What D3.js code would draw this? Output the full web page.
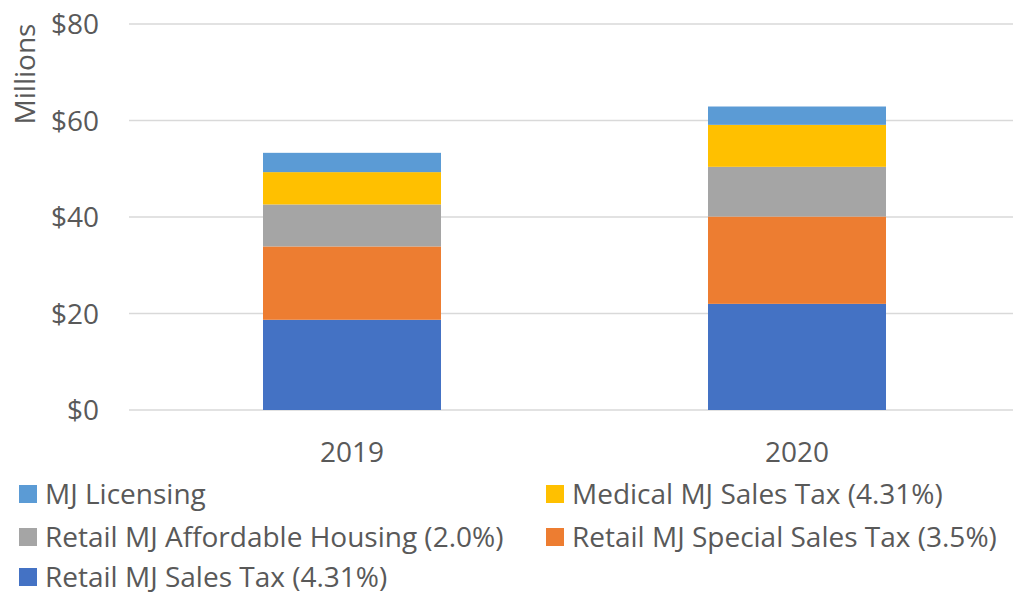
<!DOCTYPE html>
<html>
<head>
<meta charset="utf-8">
<script src="https://cdn.jsdelivr.net/npm/d3@7"></script>
<style>
  body { margin: 0; background: #fff; }
  text { font-family: "Open Sans", "Noto Sans", sans-serif; fill: #595959; }
</style>
</head>
<body>
<svg id="chart"></svg>
<script>
const years = ['2019', '2020'];
const seriesNames = [
  'Retail MJ Sales Tax (4.31%)',
  'Retail MJ Special Sales Tax (3.5%)',
  'Retail MJ Affordable Housing (2.0%)',
  'Medical MJ Sales Tax (4.31%)',
  'MJ Licensing'
];
const retailSales = [18.7, 22.0];
const retailSpecial = [15.2, 18.1];
const affordableHousing = [8.7, 10.3];
const medicalSales = [6.7, 8.7];
const licensing = [4.0, 3.8];
const yTicks = [0, 20, 40, 60, 80];
const colors = ['#4472c4', '#ed7d31', '#a5a5a5', '#ffc000', '#5b9bd5'];

const width = 1013, height = 596;
const fs = '28px';
const svg = d3.select('#chart').attr('width', width).attr('height', height);

// build rows for the stack
const values = [retailSales, retailSpecial, affordableHousing, medicalSales, licensing];
const rows = years.map((y, i) => {
  const r = { year: y };
  seriesNames.forEach((s, k) => { r[s] = values[k][i]; });
  return r;
});
const stacked = d3.stack().keys(seriesNames)(rows);

const x = d3.scaleBand().domain(years).range([129.5, 1019.5]).paddingInner(0.6).paddingOuter(0.3);
const y = d3.scaleLinear().domain([0, 80]).range([410, 24]);

// gridlines
svg.append('g').selectAll('line')
  .data(yTicks)
  .join('line')
  .attr('x1', 129).attr('x2', width)
  .attr('y1', d => y(d)).attr('y2', d => y(d))
  .attr('stroke', '#d9d9d9').attr('stroke-width', 1.5);

// y tick labels
svg.append('g').selectAll('text')
  .data(yTicks)
  .join('text')
  .attr('x', 99).attr('y', d => y(d) + 10)
  .attr('text-anchor', 'end')
  .style('font-size', fs)
  .text(d => '$' + d);

svg.append('text')
  .attr('transform', 'translate(35,74) rotate(-90)')
  .attr('text-anchor', 'middle')
  .style('font-size', fs)
  .text('Millions');

// bars
svg.append('g').selectAll('g')
  .data(stacked)
  .join('g')
  .attr('fill', (d, i) => colors[i])
  .selectAll('rect')
  .data(d => d)
  .join('rect')
  .attr('x', d => x(d.data.year))
  .attr('width', x.bandwidth())
  .attr('y', d => y(d[1]))
  .attr('height', d => y(d[0]) - y(d[1]));

// x labels
svg.append('g').selectAll('text')
  .data(years)
  .join('text')
  .attr('x', d => x(d) + x.bandwidth() / 2)
  .attr('y', 462)
  .attr('text-anchor', 'middle')
  .style('font-size', fs)
  .text(d => d);

// legend
const legendOrder = [4, 3, 2, 1, 0];
const legendPos = [[19, 494], [546, 494], [19, 537], [546, 537], [19, 577]];
const leg = svg.append('g').selectAll('g')
  .data(legendOrder)
  .join('g')
  .attr('transform', (d, i) => `translate(${legendPos[i][0]},${legendPos[i][1]})`);
leg.append('rect')
  .attr('x', 0).attr('y', -9).attr('width', 18).attr('height', 18)
  .attr('fill', d => colors[d]);
leg.append('text')
  .attr('x', 26).attr('y', 10)
  .style('font-size', fs)
  .text(d => seriesNames[d]);
</script>
</body>
</html>
